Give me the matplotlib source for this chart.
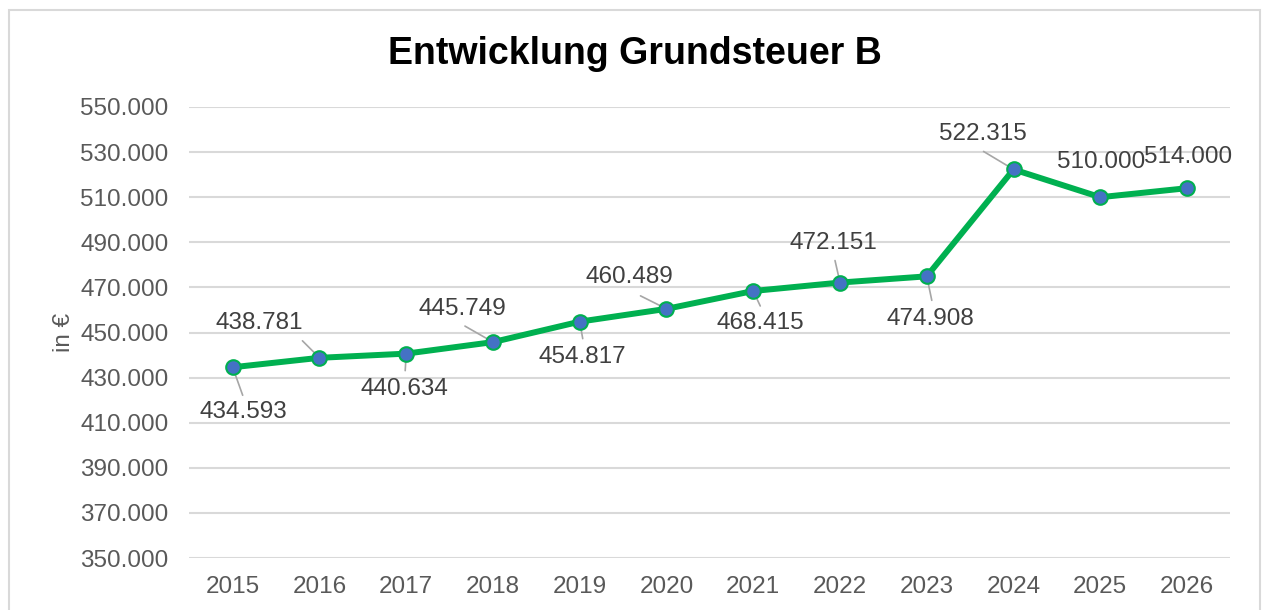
import matplotlib

matplotlib.use("Agg")
import matplotlib.pyplot as plt
from matplotlib.patches import Rectangle

plt.rcParams["font.family"] = ["Liberation Sans", "DejaVu Sans"]

years = [2015, 2016, 2017, 2018, 2019, 2020, 2021, 2022, 2023, 2024, 2025, 2026]
values = [434593, 438781, 440634, 445749, 454817, 460489, 468415, 472151,
          474908, 522315, 510000, 514000]
y_ticks = [350000, 370000, 390000, 410000, 430000, 450000, 470000,
           490000, 510000, 530000, 550000]


def de_fmt(v):
    # German thousands separator
    return f"{v:,.0f}".replace(",", ".")


# label placement in pixels relative to the point: text centre, leader end
text_off = [(11, -45), (-60, 35), (-2, -35), (-31, 33), (3, -35), (-37, 32),
            (7, -32), (-7, 40), (4, -43), (-31, 35), (1, 35), (1, 31)]
lead_end = [(10, -28), (-17, 17), (-1, -17), (-28, 16), (3, -17), (-26, 13),
            (7, -15), (-5, 22), (5, -24), (-30, 18), None, None]

FS = 17.5
PX = 0.72  # pixels -> points at 100 dpi

fig = plt.figure(figsize=(12.62, 6.10), dpi=100)
ax = fig.add_axes([0.150, 0.0852, 0.825, 0.7394])

ax.plot(range(len(years)), values, color="#00B050", lw=4.3, marker="o",
        ms=10.5, mfc="#4472C4", mec="#00B050", mew=1.5, zorder=3,
        solid_capstyle="round")

ax.set_ylim(350000, 550000)
ax.set_xlim(-0.5, len(years) - 0.5)
ax.set_yticks(y_ticks)
ax.set_yticklabels([de_fmt(v) for v in y_ticks])
ax.set_xticks(range(len(years)))
ax.set_xticklabels([str(y) for y in years])
ax.tick_params(length=0, labelsize=FS, colors="#595959", pad=15)
ax.tick_params(axis="x", pad=13)
ax.grid(axis="y", color="#D9D9D9", lw=1.5)
ax.set_axisbelow(True)
for s in ax.spines.values():
    s.set_visible(False)

ax.set_ylabel("in €", fontsize=FS, color="#595959", labelpad=4)

for i, v in enumerate(values):
    dx, dy = text_off[i]
    ax.annotate(de_fmt(v), (i, v), xytext=(dx * PX, dy * PX),
                textcoords="offset points", ha="center", va="center",
                fontsize=FS, color="#404040", zorder=4)
    if lead_end[i] is not None:
        ex, ey = lead_end[i]
        ax.annotate("", (i, v), xytext=(ex * PX, ey * PX),
                    textcoords="offset points",
                    arrowprops=dict(arrowstyle="-", color="#A6A6A6", lw=1.2,
                                    shrinkA=0, shrinkB=0), zorder=2)

fig.text(0.503, 0.912, "Entwicklung Grundsteuer B", ha="center", va="center",
         fontsize=27, fontweight="bold", color="black")

fig.patches.append(Rectangle((9 / 1262, -0.1), 1251 / 1262, 1.1 - 10 / 610,
                             transform=fig.transFigure, fill=False,
                             ec="#D9D9D9", lw=1.5))

fig.savefig("out.png", dpi=100)
